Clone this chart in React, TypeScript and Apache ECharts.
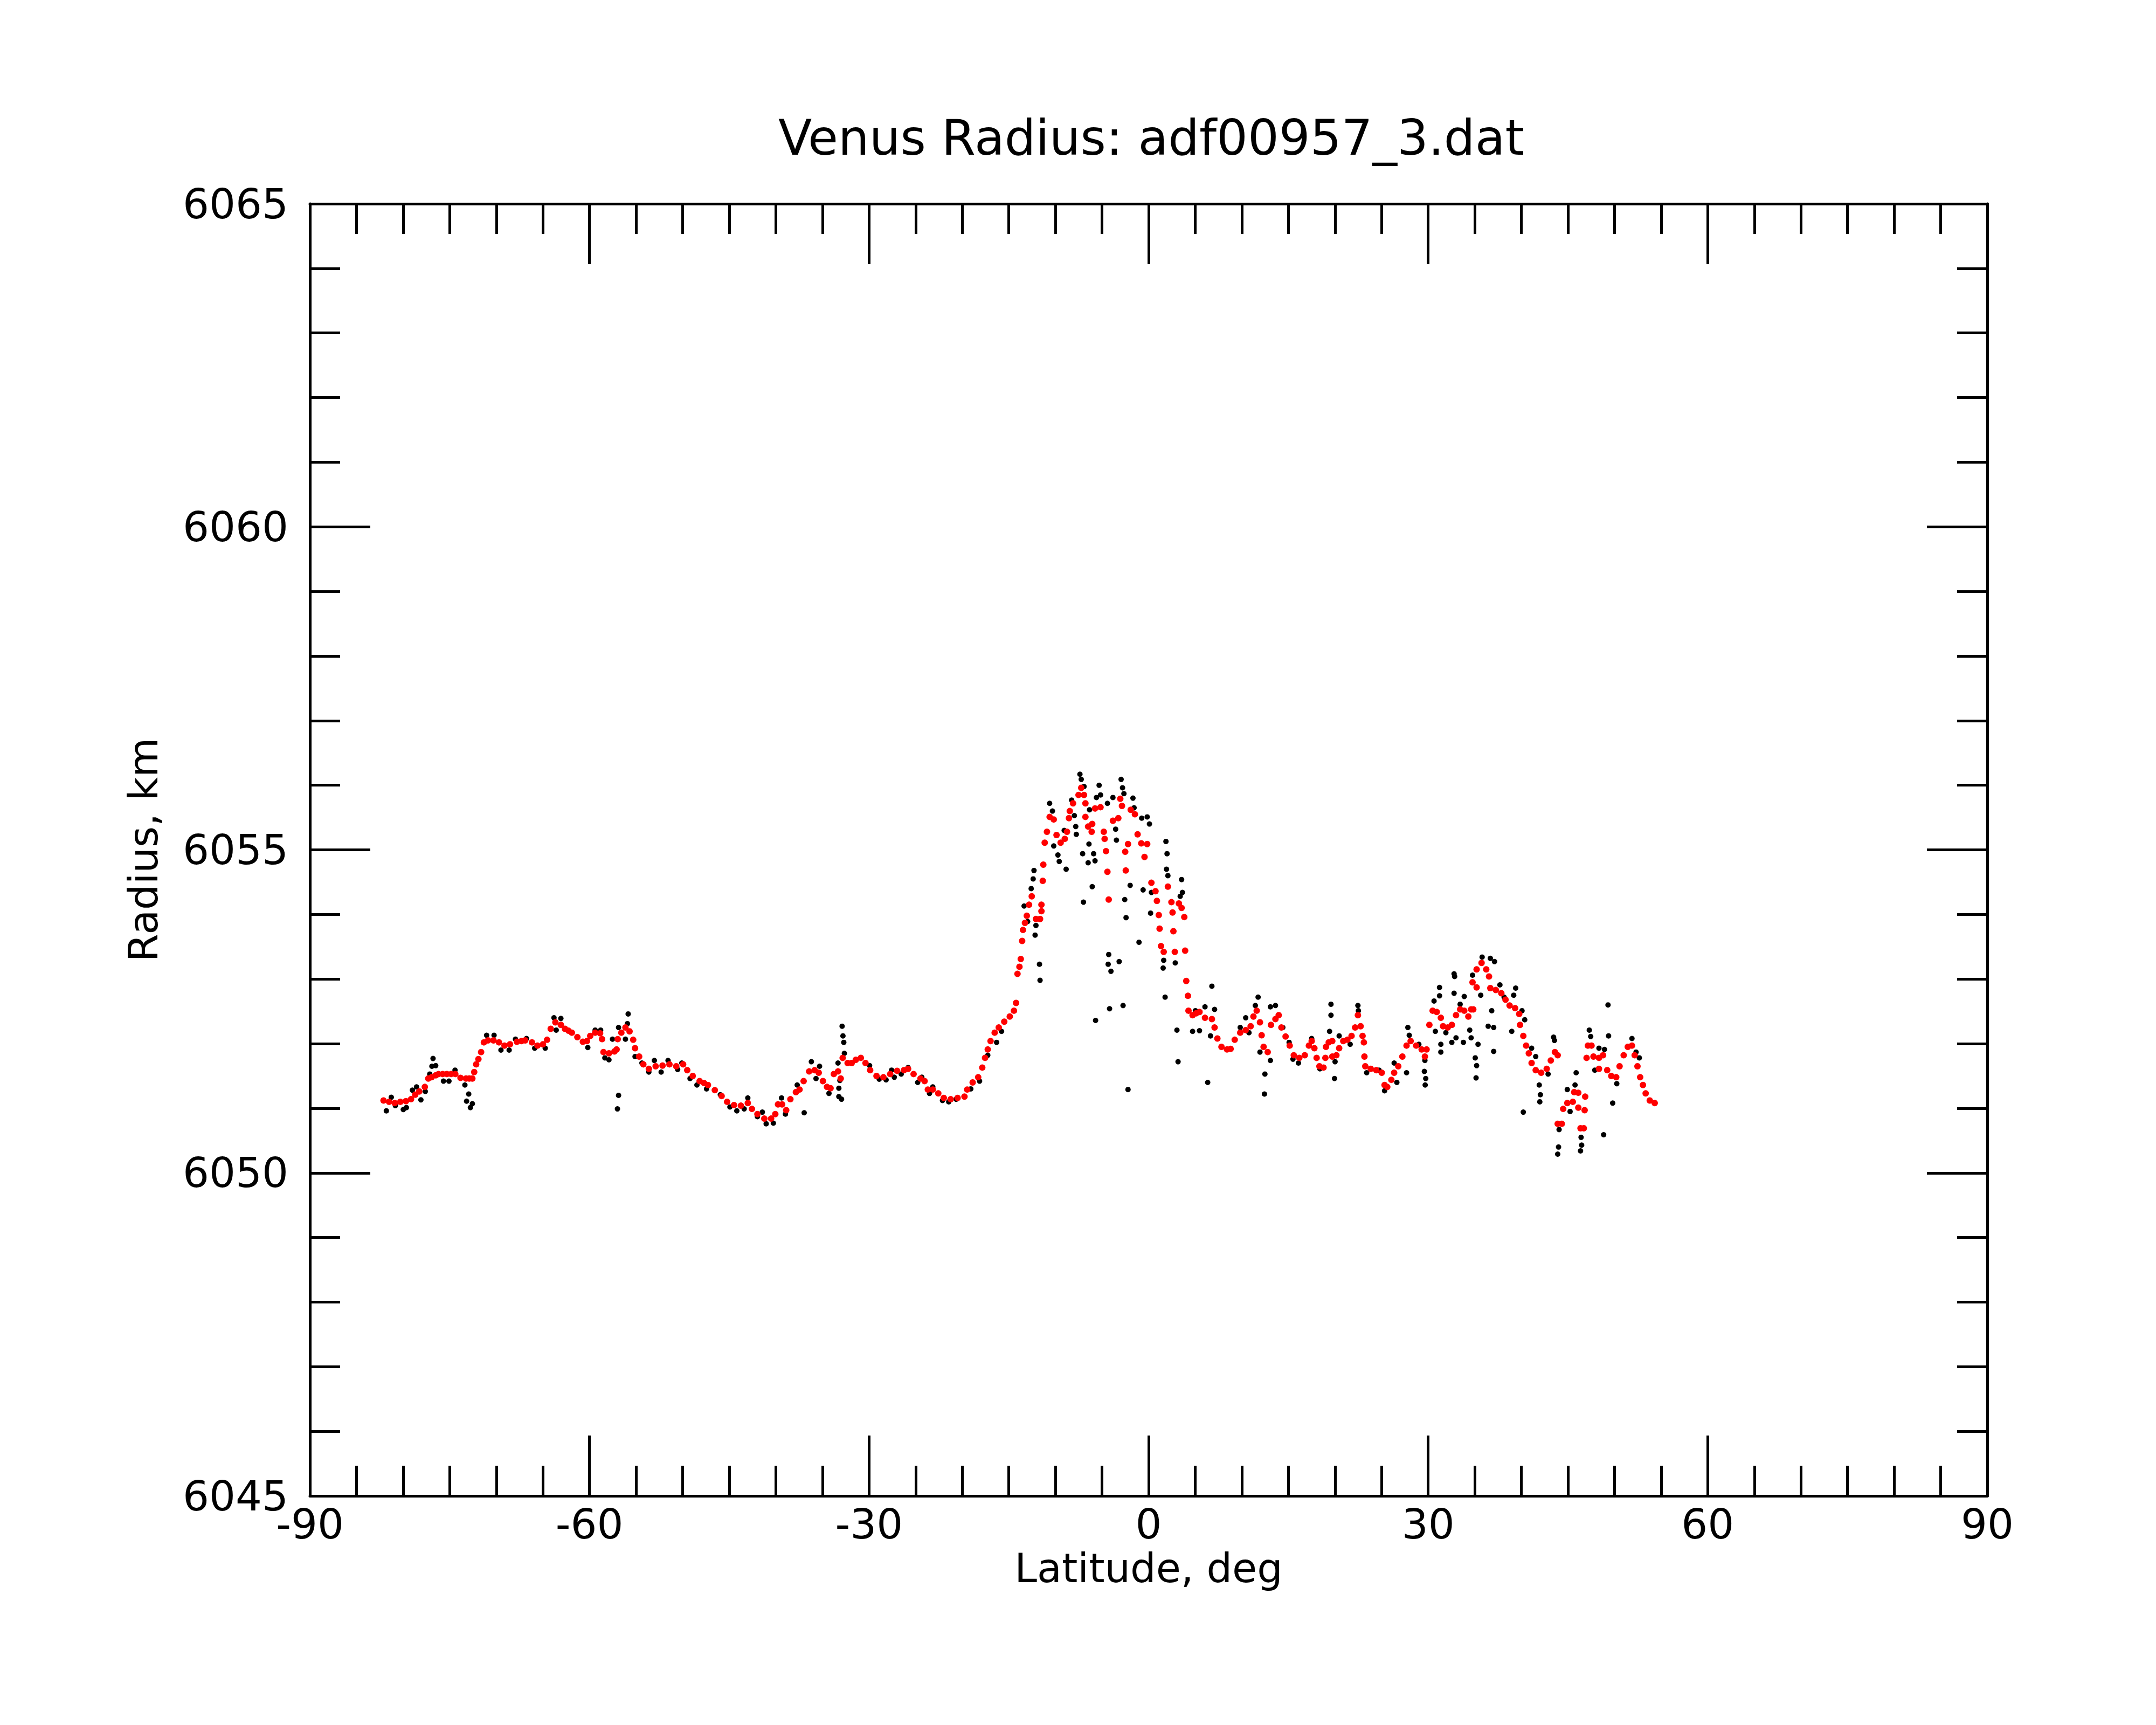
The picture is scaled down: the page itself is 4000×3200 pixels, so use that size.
import React, { useEffect, useRef } from "react";
import * as echarts from "echarts";

const TITLE = "Venus Radius: adf00957_3.dat";
const X_NAME = "Latitude, deg";
const Y_NAME = "Radius, km";
const X_TICKS = [-90, -60, -30, 0, 30, 60, 90];
const Y_TICKS = [6045, 6050, 6055, 6060, 6065];

// Red (smoothed) radius track, south part: [latitude deg, radius km]
const redSouth: number[][] = [
  [-82.1, 6051.12], [-81.5, 6051.1], [-80.9, 6051.08], [-80.3, 6051.1], [-79.7, 6051.11],
  [-79.15, 6051.14], [-78.7, 6051.21], [-78.27, 6051.26], [-77.67, 6051.33], [-77.3, 6051.46],
  [-76.94, 6051.48], [-76.5, 6051.51], [-76.2, 6051.53], [-75.75, 6051.53], [-75.3, 6051.53],
  [-74.85, 6051.53], [-74.4, 6051.53], [-73.84, 6051.47], [-73.25, 6051.46], [-72.9, 6051.46],
  [-72.57, 6051.46], [-72.37, 6051.56], [-72.16, 6051.68], [-71.92, 6051.76], [-71.63, 6051.87],
  [-71.33, 6052.02], [-70.89, 6052.05], [-70.3, 6052.05], [-69.71, 6052.02], [-69.12, 6051.97],
  [-68.53, 6051.99], [-67.79, 6052.03], [-67.3, 6052.04], [-66.9, 6052.05], [-66.17, 6052.02],
  [-65.58, 6051.97], [-64.99, 6051.99], [-64.55, 6052.06], [-64.16, 6052.23], [-63.66, 6052.33],
  [-63.07, 6052.29], [-62.63, 6052.23], [-62.25, 6052.2], [-61.89, 6052.17], [-61.3, 6052.1],
  [-60.71, 6052.03], [-60.27, 6052.04], [-59.92, 6052.12], [-59.39, 6052.17], [-58.86, 6052.16],
  [-58.65, 6052.07], [-58.5, 6051.87], [-57.91, 6051.85], [-57.32, 6051.88], [-57.09, 6051.91],
  [-56.97, 6052.07], [-56.58, 6052.17], [-56.14, 6052.25], [-55.7, 6052.19], [-55.31, 6052.06],
  [-55.11, 6051.93], [-54.67, 6051.8], [-54.22, 6051.68], [-53.63, 6051.61], [-52.9, 6051.65],
  [-52.16, 6051.66], [-51.42, 6051.68], [-50.69, 6051.65], [-49.95, 6051.68], [-49.51, 6051.59],
  [-48.92, 6051.5], [-48.18, 6051.42], [-47.7, 6051.39], [-47.29, 6051.36], [-46.55, 6051.28],
  [-45.82, 6051.19], [-45.23, 6051.1], [-44.49, 6051.05], [-43.75, 6051.04], [-43.01, 6051.08],
  [-42.57, 6050.99], [-41.98, 6050.91], [-41.24, 6050.84], [-40.51, 6050.84], [-40.06, 6050.91],
  [-39.77, 6051.06], [-39.33, 6051.06], [-38.89, 6050.97], [-38.44, 6051.14], [-37.85, 6051.25],
  [-37.46, 6051.29], [-37.02, 6051.42], [-36.43, 6051.57], [-35.84, 6051.59], [-35.4, 6051.55],
  [-34.95, 6051.42], [-34.51, 6051.33], [-34.13, 6051.31], [-33.78, 6051.53], [-33.33, 6051.57],
  [-33.04, 6051.46], [-32.83, 6051.78], [-32.3, 6051.7], [-31.86, 6051.7], [-31.42, 6051.75],
  [-30.88, 6051.78], [-30.38, 6051.7], [-29.88, 6051.59], [-29.2, 6051.5], [-28.46, 6051.48],
  [-27.73, 6051.53], [-26.99, 6051.58], [-26.25, 6051.59], [-25.81, 6051.61], [-25.22, 6051.53],
  [-24.48, 6051.46], [-24.04, 6051.42], [-23.69, 6051.29], [-23.16, 6051.29], [-22.57, 6051.23],
  [-21.98, 6051.16], [-21.24, 6051.14], [-20.5, 6051.16], [-19.76, 6051.18], [-19.47, 6051.29],
  [-18.88, 6051.4], [-18.29, 6051.48], [-17.85, 6051.63], [-17.55, 6051.78], [-17.26, 6051.91],
  [-16.96, 6052.04], [-16.52, 6052.17], [-16.08, 6052.25], [-15.49, 6052.34], [-14.9, 6052.42],
  [-14.45, 6052.51], [-14.22, 6052.63],
];

// Red track over the equatorial highland
const redPeak: number[][] = [
  [-14.07, 6053.08], [-13.86, 6053.19], [-13.72, 6053.31], [-13.57, 6053.59], [-13.48, 6053.76],
  [-13.27, 6053.87], [-13.07, 6053.98], [-12.83, 6054.15], [-12.54, 6054.28], [-12.09, 6053.93],
  [-11.65, 6053.93], [-11.5, 6054.05], [-11.5, 6054.15], [-11.36, 6054.52], [-11.3, 6054.77],
  [-11.15, 6055.11], [-10.91, 6055.28], [-10.62, 6055.51], [-10.18, 6055.47], [-9.88, 6055.23],
  [-9.44, 6055.11], [-9.0, 6055.17], [-8.76, 6055.28], [-8.55, 6055.49], [-8.46, 6055.6],
  [-8.11, 6055.72], [-7.52, 6055.85], [-7.23, 6055.96], [-6.93, 6055.85], [-6.78, 6055.72],
  [-6.78, 6055.51], [-6.49, 6055.36], [-6.05, 6055.4], [-6.11, 6055.28], [-5.75, 6055.64],
  [-5.16, 6055.66], [-4.81, 6055.28], [-4.72, 6055.17], [-4.57, 6054.98], [-4.42, 6054.66],
  [-4.28, 6054.23], [-3.83, 6055.45], [-3.25, 6055.49], [-3.04, 6055.79], [-2.86, 6055.68],
  [-2.51, 6054.97], [-2.45, 6054.68], [-2.21, 6055.09], [-1.92, 6055.62], [-1.47, 6055.55],
  [-1.18, 6055.24], [-0.79, 6055.1], [-0.44, 6054.89], [-0.15, 6055.09], [0.3, 6054.49],
  [0.74, 6054.36], [0.89, 6054.21], [1.09, 6053.99], [1.18, 6053.78], [1.33, 6053.51],
  [1.62, 6053.42], [2.07, 6054.43], [2.45, 6054.19], [2.57, 6054.03], [2.66, 6053.74],
  [2.81, 6053.42], [3.25, 6054.17], [3.54, 6054.1], [3.83, 6053.96], [3.92, 6053.44],
  [4.04, 6052.97], [4.22, 6052.74], [4.28, 6052.51],
];

// Red track, north part
const redNorth: number[][] = [
  [4.72, 6052.44], [5.1, 6052.47], [5.46, 6052.49], [6.05, 6052.4], [6.79, 6052.38],
  [7.08, 6052.25], [7.38, 6052.08], [7.82, 6051.95], [8.41, 6051.91], [8.8, 6051.92],
  [9.24, 6052.06], [9.83, 6052.17], [10.42, 6052.21], [10.95, 6052.27], [11.25, 6052.42],
  [11.6, 6052.51], [11.95, 6052.33], [12.13, 6052.13], [12.34, 6051.95], [12.78, 6051.87],
  [13.13, 6052.29], [13.61, 6052.38], [13.96, 6052.44], [14.25, 6052.25], [14.7, 6052.11],
  [15.14, 6051.97], [15.58, 6051.82], [16.17, 6051.78], [16.76, 6051.82], [17.2, 6051.97],
  [17.5, 6052.04], [17.79, 6051.93], [18.03, 6051.78], [18.33, 6051.65], [18.77, 6051.63],
  [18.97, 6051.78], [19.03, 6051.95], [19.33, 6052.02], [19.71, 6052.04], [19.71, 6051.8],
  [20.15, 6051.82], [20.45, 6051.93], [20.89, 6052.04], [21.33, 6052.06], [21.78, 6052.12],
  [22.16, 6052.25], [22.46, 6052.44], [22.75, 6052.27], [22.96, 6052.12], [23.1, 6052.02],
  [23.16, 6051.8], [23.25, 6051.65], [23.84, 6051.61], [24.43, 6051.59], [25.02, 6051.55],
  [25.32, 6051.36], [25.61, 6051.33], [26.05, 6051.44], [26.35, 6051.55], [26.79, 6051.65],
  [27.23, 6051.8], [27.68, 6051.97], [28.12, 6052.04], [28.71, 6051.97], [29.3, 6051.91],
  [29.65, 6051.8], [29.83, 6051.91], [30.13, 6052.29], [30.48, 6052.51], [30.92, 6052.49],
  [31.36, 6052.4], [31.6, 6052.27], [32.1, 6052.25], [32.54, 6052.29], [32.99, 6052.44],
  [33.43, 6052.53], [33.87, 6052.51], [34.31, 6052.42], [34.61, 6052.53], [34.84, 6052.53],
  [34.76, 6052.95], [35.2, 6052.87], [35.2, 6053.15], [35.73, 6053.25], [36.23, 6053.15],
  [36.53, 6053.04], [36.67, 6052.86], [37.26, 6052.83], [37.85, 6052.78], [38.3, 6052.68],
  [38.74, 6052.59], [39.33, 6052.55], [39.77, 6052.46], [39.86, 6052.29], [40.21, 6052.12],
  [40.51, 6051.97], [40.8, 6051.85], [41.1, 6051.7], [41.54, 6051.59], [42.13, 6051.55],
  [42.72, 6051.61], [43.16, 6051.74], [43.6, 6051.87], [43.9, 6051.82], [43.9, 6050.76],
  [44.34, 6050.76], [44.49, 6050.99], [44.93, 6051.08], [45.52, 6051.1], [45.67, 6051.25],
  [46.11, 6051.24], [46.11, 6051.01], [46.35, 6050.69], [46.7, 6050.69], [46.79, 6050.97],
  [46.85, 6051.18], [47.0, 6051.78], [47.14, 6051.97], [47.53, 6051.97], [47.74, 6051.8],
  [48.33, 6051.78], [48.77, 6051.82], [48.33, 6051.61], [49.21, 6051.59], [49.65, 6051.5],
  [50.18, 6051.48], [50.54, 6051.65], [50.98, 6051.82], [51.42, 6051.95], [51.87, 6051.97],
  [52.16, 6051.82], [52.46, 6051.65], [52.75, 6051.48], [53.05, 6051.36], [53.34, 6051.23],
  [53.78, 6051.12], [54.31, 6051.08],
];

// Black (raw) radius samples, south part
const blackSouth: number[][] = [
  [-81.8, 6050.96], [-81.27, 6051.17], [-80.83, 6051.04], [-79.98, 6050.98], [-79.65, 6051.01],
  [-79.0, 6051.28], [-78.56, 6051.33], [-78.09, 6051.13], [-77.62, 6051.26], [-77.14, 6051.53],
  [-76.79, 6051.77], [-76.5, 6051.66], [-76.91, 6051.65], [-75.67, 6051.42], [-75.08, 6051.42],
  [-74.43, 6051.59], [-73.37, 6051.36], [-72.96, 6051.22], [-73.19, 6051.11], [-72.78, 6051.01],
  [-72.57, 6051.07], [-71.04, 6052.13], [-70.24, 6052.13], [-69.5, 6051.9], [-68.62, 6051.9],
  [-67.94, 6052.07], [-66.76, 6052.08], [-65.88, 6051.93], [-64.75, 6051.93], [-63.81, 6052.4],
  [-63.07, 6052.39], [-63.57, 6052.21], [-60.18, 6051.94], [-59.39, 6052.21], [-58.8, 6052.21],
  [-58.35, 6051.78], [-57.91, 6051.75], [-57.53, 6052.07], [-56.88, 6052.25], [-56.14, 6052.07],
  [-55.93, 6052.31], [-55.85, 6052.46], [-56.88, 6051.2], [-57.0, 6050.99], [-55.11, 6051.8],
  [-54.37, 6051.7], [-53.63, 6051.56], [-53.04, 6051.74], [-52.31, 6051.56], [-51.57, 6051.74],
  [-50.54, 6051.6], [-50.09, 6051.7], [-49.21, 6051.46], [-48.47, 6051.36], [-47.44, 6051.3],
  [-45.96, 6051.21], [-44.93, 6051.02], [-44.19, 6050.96], [-43.01, 6051.16], [-43.4, 6050.99],
  [-41.98, 6050.87], [-41.45, 6050.94], [-41.04, 6050.76], [-40.27, 6050.77], [-39.39, 6051.16],
  [-38.97, 6050.91], [-37.71, 6051.36], [-36.96, 6050.93], [-36.19, 6051.72], [-35.69, 6051.46],
  [-35.31, 6051.65], [-34.3, 6051.23], [-33.33, 6051.7], [-33.24, 6051.31], [-33.24, 6051.18],
  [-32.95, 6051.14], [-32.89, 6052.27], [-32.8, 6052.12], [-32.71, 6052.02], [-32.65, 6051.85],
  [-33.13, 6051.43], [-29.94, 6051.66], [-28.91, 6051.45], [-28.17, 6051.44], [-27.58, 6051.59],
  [-27.29, 6051.48], [-26.55, 6051.53], [-25.81, 6051.63], [-24.78, 6051.4], [-24.34, 6051.48],
  [-23.51, 6051.23], [-23.16, 6051.33], [-22.12, 6051.12], [-21.45, 6051.1], [-20.65, 6051.14],
  [-19.08, 6051.3], [-18.14, 6051.42], [-17.26, 6051.82], [-16.31, 6052.02], [-15.78, 6052.19],
];

// Black samples over the highland
const blackPeak: number[][] = [
  [-13.36, 6054.13], [-12.98, 6053.89], [-12.6, 6054.4], [-12.39, 6054.55], [-12.3, 6054.68],
  [-12.18, 6053.68], [-12.09, 6053.83], [-11.71, 6053.23], [-11.65, 6052.98], [-10.62, 6055.72],
  [-10.32, 6055.6], [-10.18, 6055.06], [-9.73, 6054.92], [-9.59, 6054.82], [-9.06, 6055.3],
  [-8.85, 6054.7], [-8.26, 6055.77], [-7.97, 6055.53], [-7.82, 6055.36], [-7.76, 6055.24],
  [-7.37, 6056.17], [-7.23, 6056.09], [-6.93, 6055.98], [-6.99, 6054.19], [-6.34, 6055.62],
  [-6.4, 6055.09], [-7.08, 6054.94], [-6.49, 6054.8], [-6.05, 6054.43], [-5.9, 6054.94],
  [-5.75, 6054.83], [-5.69, 6052.36], [-5.6, 6055.81], [-5.31, 6056.0], [-5.16, 6055.85],
  [-4.42, 6055.72], [-4.28, 6053.38], [-4.34, 6053.23], [-4.04, 6053.12], [-4.19, 6052.54],
  [-3.83, 6055.81], [-3.54, 6055.32], [-3.45, 6055.15], [-3.16, 6053.27], [-2.95, 6056.09],
  [-2.8, 6055.96], [-2.65, 6055.87], [-2.56, 6054.23], [-2.74, 6052.59], [-2.42, 6053.95],
  [-2.21, 6051.29], [-1.98, 6054.45], [-1.68, 6055.8], [-1.56, 6055.65], [-1.03, 6053.57],
  [-0.74, 6055.49], [-0.59, 6054.38], [-0.15, 6055.51], [0.09, 6055.4], [0.21, 6054.02],
  [0.3, 6054.34], [1.62, 6053.29], [1.56, 6053.17], [1.77, 6052.72], [1.86, 6055.13],
  [1.98, 6054.94], [1.92, 6054.7], [2.07, 6054.6], [2.86, 6053.25], [3.04, 6052.21],
  [3.16, 6051.72], [3.39, 6054.28], [3.54, 6054.54], [3.63, 6054.34],
];

// Black samples, north part
const blackNorth: number[][] = [
  [4.72, 6052.19], [5.02, 6052.51], [5.46, 6052.2], [6.05, 6052.57], [6.34, 6051.4],
  [6.64, 6052.12], [6.79, 6052.89], [7.08, 6052.53], [9.83, 6052.25], [10.42, 6052.4],
  [10.77, 6052.17], [11.45, 6052.59], [11.75, 6052.72], [11.95, 6051.87], [12.48, 6051.53],
  [12.43, 6051.22], [13.07, 6051.74], [13.07, 6052.57], [13.61, 6052.59], [14.4, 6052.25],
  [15.08, 6052.02], [15.49, 6051.76], [16.08, 6051.7], [17.5, 6052.08], [18.38, 6051.61],
  [19.57, 6052.61], [19.57, 6052.44], [19.42, 6052.19], [20.01, 6051.72], [19.95, 6051.46],
  [20.45, 6052.12], [21.63, 6051.99], [22.46, 6052.59], [22.51, 6052.51], [23.4, 6051.55],
  [24.73, 6051.59], [25.32, 6051.27], [26.35, 6051.7], [26.64, 6051.4], [27.68, 6051.55],
  [27.82, 6052.25], [27.97, 6052.13], [29.0, 6051.99], [29.65, 6051.74], [29.59, 6051.57],
  [29.74, 6051.46], [29.68, 6051.36], [30.63, 6052.66], [31.22, 6052.87], [31.22, 6052.74],
  [30.77, 6052.19], [31.36, 6051.99], [31.36, 6051.87], [31.9, 6052.17], [32.54, 6052.02],
  [32.78, 6053.08], [32.84, 6053.04], [32.78, 6052.78], [32.99, 6052.09], [33.87, 6052.73],
  [33.43, 6052.61], [33.78, 6052.02], [34.46, 6052.21], [34.61, 6052.09], [34.76, 6053.06],
  [35.35, 6051.99], [35.05, 6051.78], [35.2, 6051.66], [35.14, 6051.47], [35.64, 6052.75],
  [35.79, 6053.34], [36.67, 6053.32], [37.12, 6053.27], [36.82, 6052.51], [36.44, 6052.27],
  [37.03, 6052.25], [37.03, 6051.88], [37.7, 6052.91], [38.15, 6052.72], [39.18, 6052.75],
  [39.39, 6052.86], [38.97, 6052.19], [40.07, 6052.51], [40.36, 6052.37], [41.1, 6051.93],
  [41.54, 6051.8], [41.92, 6051.36], [42.04, 6051.21], [41.98, 6051.1], [40.21, 6050.94],
  [42.87, 6051.53], [43.46, 6052.1], [43.55, 6052.05], [44.05, 6050.67], [43.99, 6050.4],
  [43.9, 6050.29], [44.93, 6051.29], [45.76, 6051.36], [45.88, 6051.55], [45.23, 6050.95],
  [46.41, 6050.55], [46.47, 6050.43], [46.35, 6050.34], [47.29, 6052.21], [47.44, 6052.11],
  [47.88, 6051.59], [48.33, 6051.93], [48.92, 6051.91], [49.3, 6052.6], [49.36, 6052.12],
  [48.83, 6050.59], [49.8, 6051.08], [50.24, 6051.38], [51.87, 6052.08], [52.31, 6051.87],
  [52.66, 6051.78],
];

const FONT = "DejaVu Sans";

function axisCommon(showLabel: boolean, interval: number, minorSplit: number) {
  return {
    type: "value" as const,
    interval,
    axisLine: { show: true, onZero: false, lineStyle: { color: "#000", width: 5 } },
    axisTick: { show: true, inside: true, length: 112, lineStyle: { color: "#000", width: 5 } },
    minorTick: { show: true, splitNumber: minorSplit, length: 56, lineStyle: { color: "#000", width: 5 } },
    splitLine: { show: false },
    minorSplitLine: { show: false },
    axisLabel: { show: showLabel },
  };
}

export default function App() {
  const ref = useRef<HTMLDivElement>(null);
  useEffect(() => {
    document.body.style.margin = "0";
    if (!ref.current) return;
    const chart = echarts.init(ref.current, null, { renderer: "svg" });
    const labelStyle = { color: "#000", fontFamily: FONT, fontSize: 77 };
    const nameStyle = { color: "#000", fontFamily: FONT, fontSize: 75 };
    const black = [...blackSouth, ...blackPeak, ...blackNorth];
    const red = [...redSouth, ...redPeak, ...redNorth];
    const plain = (v: number) => String(v);
    chart.setOption({
      animation: false,
      backgroundColor: "#ffffff",
      title: {
        text: TITLE,
        left: 2131,
        top: 205,
        textAlign: "center",
        textStyle: { color: "#000", fontFamily: FONT, fontSize: 91, fontWeight: "normal" },
      },
      grid: { left: 575, right: 313, top: 378, bottom: 425, containLabel: false },
      xAxis: [
        {
          ...axisCommon(true, 30, 6),
          min: X_TICKS[0],
          max: X_TICKS[X_TICKS.length - 1],
          position: "bottom",
          axisLabel: { show: true, margin: 14, formatter: plain, ...labelStyle, showMinLabel: true, showMaxLabel: true },
          name: X_NAME,
          nameLocation: "middle",
          nameGap: 96,
          nameTextStyle: nameStyle,
        },
        {
          ...axisCommon(false, 30, 6),
          min: X_TICKS[0],
          max: X_TICKS[X_TICKS.length - 1],
          position: "top",
        },
      ],
      yAxis: [
        {
          ...axisCommon(true, 5, 5),
          min: Y_TICKS[0],
          max: Y_TICKS[Y_TICKS.length - 1],
          position: "left",
          axisLabel: { show: true, margin: 40, formatter: plain, ...labelStyle, showMinLabel: true, showMaxLabel: true },
          name: Y_NAME,
          nameLocation: "middle",
          nameGap: 272,
          nameTextStyle: nameStyle,
        },
        {
          ...axisCommon(false, 5, 5),
          min: Y_TICKS[0],
          max: Y_TICKS[Y_TICKS.length - 1],
          position: "right",
        },
      ],
      series: [
        {
          type: "scatter",
          xAxisIndex: 0,
          yAxisIndex: 0,
          data: black,
          symbol: "circle",
          symbolSize: 10,
          itemStyle: { color: "#000000", opacity: 1 },
          silent: true,
        },
        {
          type: "scatter",
          xAxisIndex: 0,
          yAxisIndex: 0,
          data: red,
          symbol: "circle",
          symbolSize: 12,
          itemStyle: { color: "#ff0000", opacity: 1 },
          silent: true,
        },
      ],
    });
    return () => chart.dispose();
  }, []);
  return <div ref={ref} style={{ width: 4000, height: 3200 }} />;
}
